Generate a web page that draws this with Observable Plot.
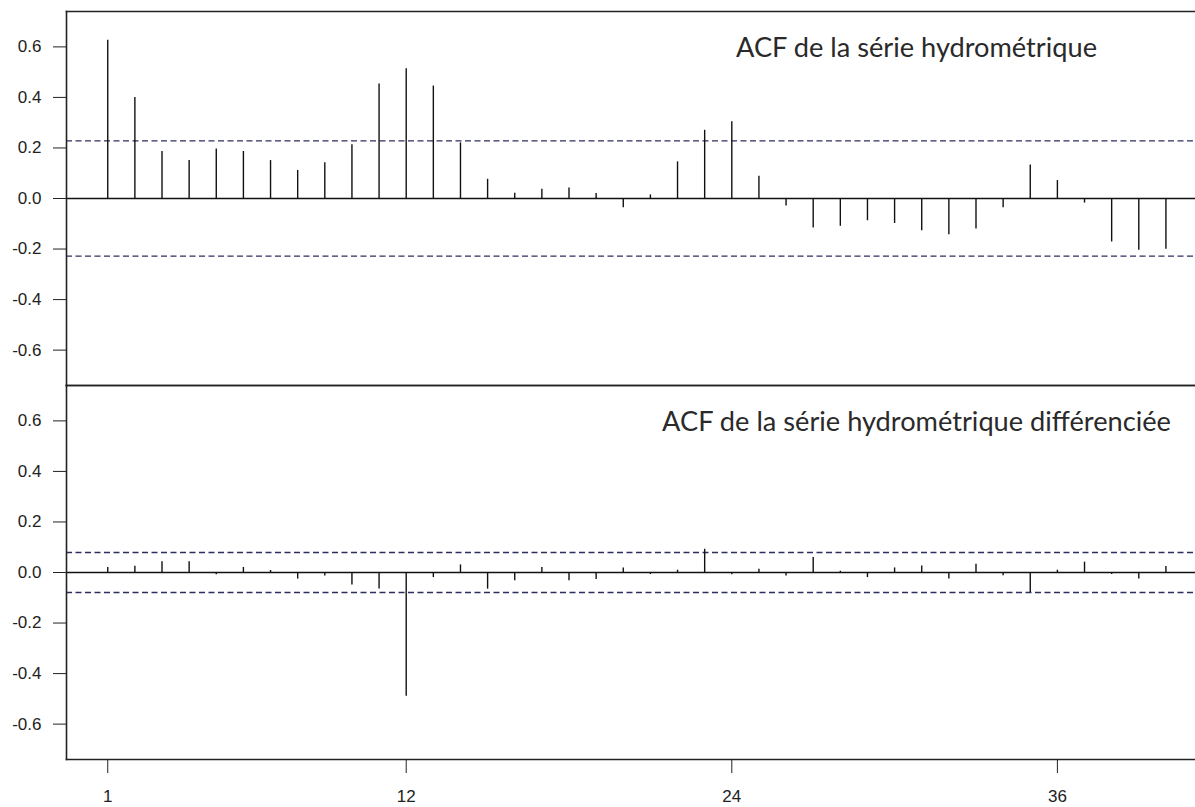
<!DOCTYPE html>
<html>
<head>
<meta charset="utf-8">
<script src="https://cdn.jsdelivr.net/npm/d3@7"></script>
<script src="https://cdn.jsdelivr.net/npm/@observablehq/plot@0.6"></script>
<style>
  html, body { margin: 0; padding: 0; background: #fff; overflow: hidden; }
  #wrap { width: 1195px; height: 807px; overflow: hidden; }
  #wrap svg { max-width: none !important; display: block; }
</style>
</head>
<body>
<div id="wrap"></div>
<script>
// Lags 1..40
const lags = d3.range(1, 41);

// ACF of the hydrometric series
const acfRaw = [
  0.626, 0.400, 0.186, 0.150, 0.196, 0.186, 0.150, 0.111, 0.141, 0.213,
  0.453, 0.513, 0.445, 0.220, 0.076, 0.021, 0.037, 0.042, 0.020, -0.037,
  0.014, 0.145, 0.270, 0.304, 0.088, -0.030, -0.117, -0.110, -0.088, -0.099,
  -0.128, -0.143, -0.121, -0.037, 0.133, 0.071, -0.018, -0.172, -0.205, -0.201
];

// ACF of the differenced hydrometric series
const acfDiff = [
  0.020, 0.025, 0.043, 0.043, -0.009, 0.020, 0.008, -0.026, -0.014, -0.049,
  -0.065, -0.490, -0.020, 0.030, -0.066, -0.033, 0.020, -0.033, -0.028, 0.018,
  -0.008, 0.009, 0.092, -0.009, 0.013, -0.014, 0.059, 0.005, -0.020, 0.018,
  0.026, -0.026, 0.033, -0.013, -0.079, 0.009, 0.041, -0.008, -0.026, 0.024
];

// Confidence bounds (±)
const bounds = [0.228, 0.079];

const panels = ["raw", "diff"];
const titles = ["ACF de la série hydrométrique", "ACF de la série hydrométrique différenciée"];
const xTicks = [1, 12, 24, 36];
const yTicks = [-0.6, -0.4, -0.2, 0, 0.2, 0.4, 0.6];

// Build tables for the library
const bars = [
  ...lags.map((l, i) => ({panel: panels[0], lag: l, acf: acfRaw[i]})),
  ...lags.map((l, i) => ({panel: panels[1], lag: l, acf: acfDiff[i]}))
];
const bandLines = panels.flatMap((p, i) => [
  {panel: p, v: bounds[i]},
  {panel: p, v: -bounds[i]}
]);
const titleRows = panels.map((p, i) => ({panel: p, t: titles[i]}));

const frameStyle = {stroke: "#222", strokeWidth: 1.6};

const chart = Plot.plot({
  width: 1195,
  height: 807,
  marginLeft: 66,
  marginRight: 0,
  marginTop: 11,
  marginBottom: 48,
  style: {fontFamily: "'Liberation Sans', Arial, sans-serif", fontSize: "17px", color: "#222", background: "#fff", maxWidth: "none"},
  x: {domain: [-0.52, 41.09], ticks: xTicks, tickSize: 14, tickPadding: 16, label: null, tickFormat: d => String(d)},
  y: {domain: [-0.74, 0.74], ticks: yTicks, tickSize: 13, tickPadding: 12, label: null, tickFormat: d => d.toFixed(1)},
  fy: {domain: panels, axis: null, padding: 0},
  marks: [
    Plot.ruleY([0], {stroke: "#111", strokeWidth: 1.4}),
    Plot.ruleY(bandLines, {y: "v", fy: "panel", stroke: "#2e2e5e", strokeWidth: 1.4, strokeDasharray: "6,3.5"}),
    Plot.ruleX(bars, {x: "lag", y1: 0, y2: "acf", fy: "panel", stroke: "#111", strokeWidth: 1.4}),
    Plot.text(titleRows, {text: "t", fy: "panel", frameAnchor: "top-right", dx: -279, dy: 37, textAnchor: "middle", lineAnchor: "middle", fontSize: 27.2, fontFamily: "Lato, 'Open Sans', sans-serif", fill: "#2a2a2a"}),
    Plot.frame({...frameStyle, anchor: "left"}),
    Plot.frame({...frameStyle, anchor: "top"}),
    Plot.frame({...frameStyle, anchor: "bottom"})
  ]
});

document.getElementById("wrap").appendChild(chart);
</script>
</body>
</html>
